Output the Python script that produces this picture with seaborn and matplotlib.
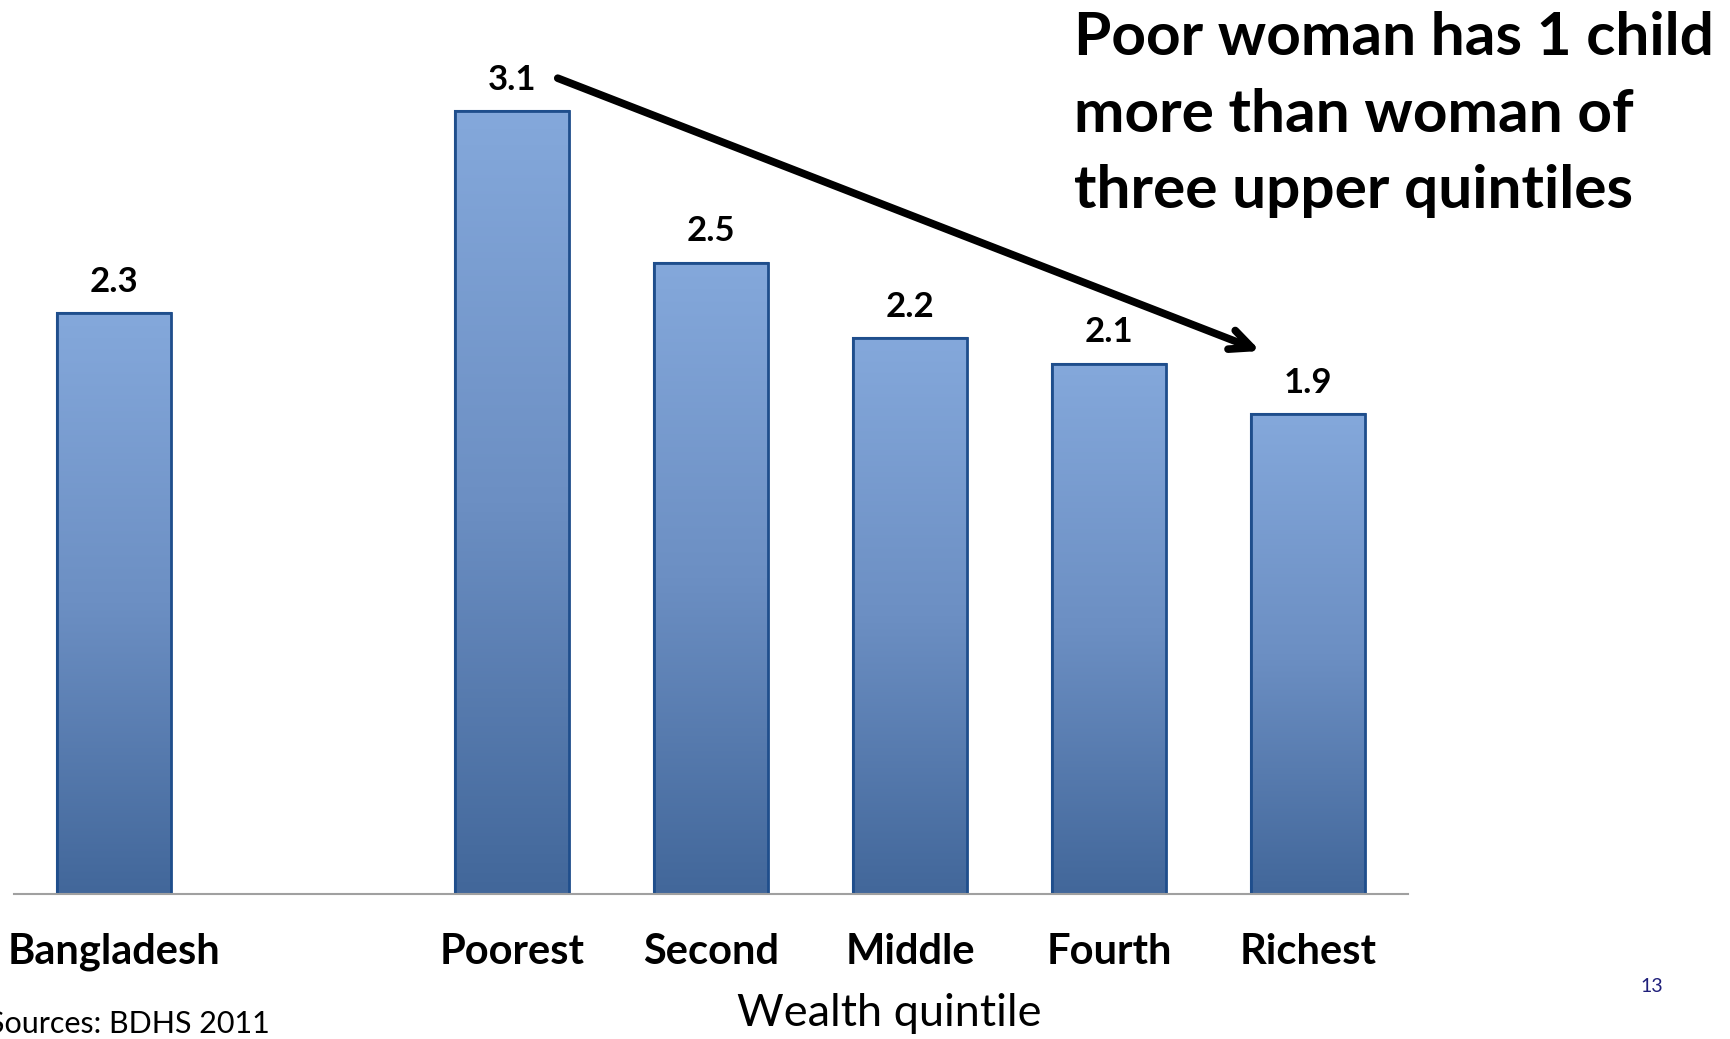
import numpy as np
import pandas as pd
import matplotlib
matplotlib.use("Agg")
import matplotlib.pyplot as plt
import seaborn as sns
from matplotlib.colors import LinearSegmentedColormap

categories = ["Bangladesh", "", "Poorest", "Second", "Middle", "Fourth", "Richest"]
values = [2.3, np.nan, 3.1, 2.5, 2.2, 2.1, 1.9]
value_labels = ["2.3", "", "3.1", "2.5", "2.2", "2.1", "1.9"]
annotation_lines = ["Poor woman has 1 child", "more than woman of", "three upper quintiles"]
xlabel = "Wealth quintile"
source = "Sources: BDHS 2011"
page_no = "13"

sns.set_theme(style="white")
plt.rcParams['font.family'] = ['Lato', 'DejaVu Sans']

W, H = 1731, 1039
fig = plt.figure(figsize=(W / 100, H / 100), dpi=100)
ax_left, ax_right = 14.4 / W, 1407.6 / W
ax_bottom = (H - 894) / H
ax_top = (H - 10) / H
ax = fig.add_axes([ax_left, ax_bottom, ax_right - ax_left, ax_top - ax_bottom])

df = pd.DataFrame({"cat": categories, "val": values})
sns.barplot(data=df, x="cat", y="val", order=categories, width=0.57,
            color="#6E90C4", edgecolor="#1F4E8C", linewidth=1.5, ax=ax,
            saturation=1)

ax.set_xlim(-0.5, 6.5)
ax.set_ylim(0, 3.5)

cmap = LinearSegmentedColormap.from_list("g", ["#42679A", "#6C8FC3", "#84A8DB"])
grad = np.linspace(0, 1, 256).reshape(-1, 1)
for p in list(ax.patches):
    h = p.get_height()
    if not np.isfinite(h) or h <= 0:
        continue
    x0 = p.get_x(); w = p.get_width()
    im = ax.imshow(grad, cmap=cmap, aspect="auto", origin="lower",
                   extent=[x0, x0 + w, 0, h], zorder=p.get_zorder() + 0.1)
    im.set_clip_path(p)
    ax.add_patch(plt.Rectangle((x0, 0), w, h, fill=False, edgecolor="#1F4E8C",
                               linewidth=2, zorder=p.get_zorder() + 0.2))

for i, (v, lab) in enumerate(zip(values, value_labels)):
    if lab:
        ax.text(i, v + 0.06, lab, ha="center", va="bottom", fontsize=25,
                fontweight="bold", color="black")

sns.despine(ax=ax, left=True, top=True, right=True)
ax.spines["bottom"].set_color("#A0A0A0")
ax.spines["bottom"].set_linewidth(1.5)
ax.set_yticks([])
ax.set_ylabel("")
ax.set_xlabel("")
ax.tick_params(axis="x", length=0, pad=28)
ax.set_xticks(range(len(categories)))
ax.set_xticklabels(categories, fontsize=30, fontweight="bold", color="black")

ax.annotate("", xy=(5.76, 2.15), xytext=(2.23, 3.23),
            arrowprops=dict(arrowstyle="->,head_length=1.3,head_width=0.6",
                            color="black", lw=5.5, shrinkA=0, shrinkB=0),
            annotation_clip=False)

for line, base_y in zip(annotation_lines, [55, 132, 208]):
    fig.text(1074 / W, 1 - base_y / H, line, ha="left", va="baseline",
             fontsize=43.5, fontweight="bold", color="black")

fig.text(889 / W, 1 - 1013 / H, xlabel, ha="center", va="center", fontsize=32.5,
         color="black")
fig.text(270 / W, 1 - 1024 / H, source, ha="right", va="center", fontsize=22,
         color="black")
fig.text(1652 / W, 1 - 986 / H, page_no, ha="center", va="center", fontsize=14,
         color="#1F1F7A")

fig.savefig("out.png", dpi=100)
